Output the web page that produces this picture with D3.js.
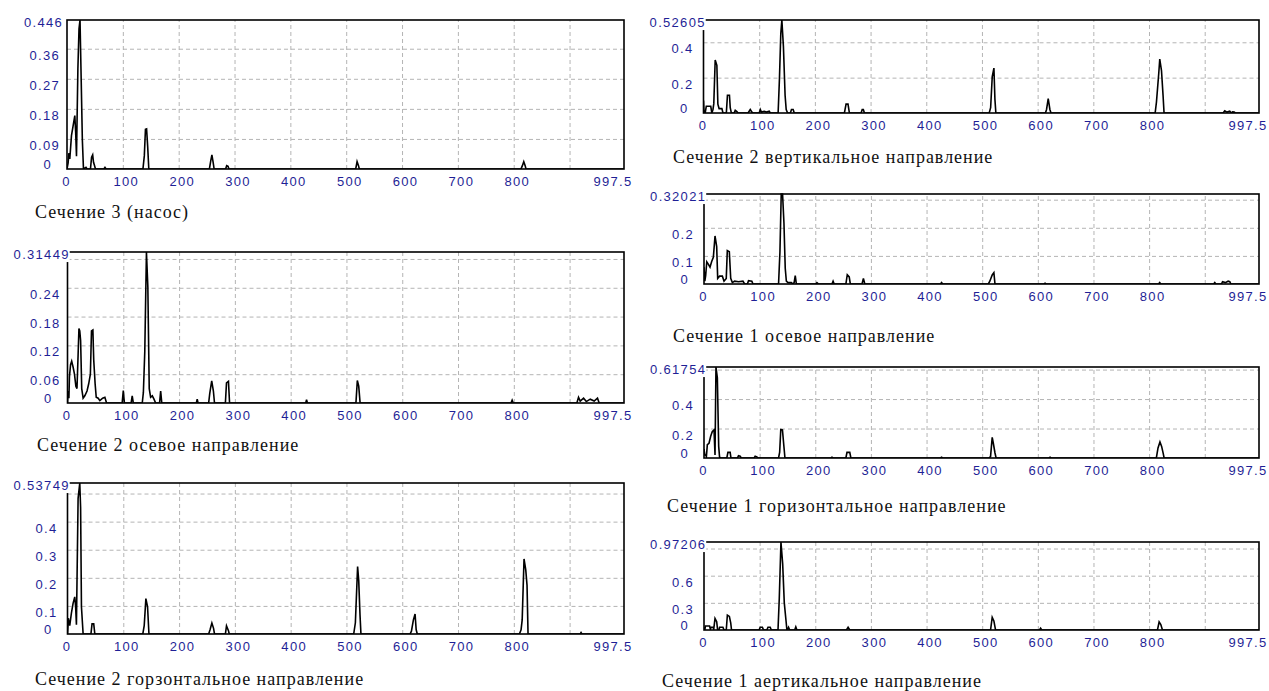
<!DOCTYPE html>
<html>
<head>
<meta charset="utf-8">
<script src="https://cdn.jsdelivr.net/npm/d3@7"></script>
<style>
  body { margin: 0; background: #fff; }
  svg { display: block; }
  .tick-label { font-family: "Liberation Sans", Arial, sans-serif; font-size: 13px; letter-spacing: 1.3px; fill: #1f1f96; }
  .caption { font-family: "Liberation Serif", "Times New Roman", serif; font-size: 18px; letter-spacing: 1px; fill: #111; }
</style>
</head>
<body>
<svg id="chart" width="1269" height="691"></svg>
<script>
// Frequency axis (Hz) shared by every spectrum
const xMax = 997.5;
const xLabelValues = [0, 100, 200, 300, 400, 500, 600, 700, 800];
const xGridValues = [100, 200, 300, 400, 500, 600, 700, 800, 900];

// Spectra: [frequency, amplitude] pairs
const pumpSpectrum = [
  [0,0],[2,0.018],[3.5,0.048],[5,0.03],[8,0.1],[11,0.13],[14,0.16],[15.5,0.11],[17,0.038],[19.5,0.3],[21.5,0.42],[23.3,0.446],
  [25.5,0.26],[27.5,0.087],[29.5,0],[34,0.005],[36,0],[42,0],[44,0.035],[46,0.042],[47.5,0.02],[49,0.012],[51,0],[66,0],[68,0.005],[70,0],
  [136,0],[138.5,0.04],[140.5,0.119],[142.5,0.12],[144.5,0.067],[146.5,0],[255,0],[257.5,0.025],[259.5,0.042],[261.5,0.022],[263.5,0],
  [284,0],[286,0.01],[288.5,0.008],[290,0],[517,0],[519.5,0.022],[522,0.01],[523.5,0],[813,0],[815.5,0.01],[818,0.022],[820.5,0.01],[822,0],[997.5,0]
];
const s2AxialSpectrum = [
  [0,0],[1,0.025],[2.5,0.01],[3.5,0.055],[5.5,0.08],[7.5,0.087],[10,0.075],[12.5,0.06],[15,0.035],[17,0.03],[19,0.1],[20.5,0.155],[22,0.15],
  [23.5,0.13],[25.5,0.03],[28,0.01],[31,0.015],[35,0.025],[38,0.04],[41,0.06],[43,0.15],[45.5,0.152],[47,0.09],[49.5,0.04],[51.5,0.012],
  [55,0.01],[58,0.005],[63,0.01],[67,0.012],[70,0],[98,0],[100,0.026],[102,0],[114,0],[116,0.015],[118,0],[134,0],[136,0.022],[138.5,0.106],
  [141.5,0.3145],[144,0.242],[146.5,0.03],[149,0.012],[152,0.015],[155,0.008],[158,0],[165,0],[167,0.025],[169,0],[231,0],[232.5,0.008],[234,0],
  [253,0],[255,0.02],[258.5,0.046],[261.5,0.025],[263.5,0],[283,0],[285,0.042],[288.5,0.045],[290.5,0],[427,0],[428.5,0.007],[430,0],
  [517,0],[519.5,0.047],[522,0.035],[524.5,0],[795,0],[797,0.006],[799,0],[913,0],[916,0.012],[919,0.004],[925,0.01],[930,0.003],[937,0.008],
  [944,0.004],[950,0.01],[953,0],[997.5,0]
];
const s2HorizontalSpectrum = [
  [0,0],[0.5,0.015],[1.5,0.056],[4,0.03],[7,0.074],[10,0.109],[13,0.132],[14.5,0.1],[16,0.033],[19,0.483],[22,0.5375],[23.5,0.45],[25,0.097],
  [28,0],[42,0],[44,0.036],[47,0.036],[49,0],[135,0],[137.5,0.03],[140.5,0.126],[143.5,0.097],[146,0],[253,0],[255.5,0.015],[258.8,0.039],
  [261.8,0.02],[263.5,0],[283,0],[285,0.029],[288.5,0.012],[290,0],[513,0],[516,0.04],[520,0.24],[522,0.19],[524.3,0.068],[526,0],
  [614,0],[616.5,0.01],[620,0.05],[623,0.071],[625,0.015],[627,0],[810,0],[813,0.015],[815,0.05],[818.3,0.267],[821.4,0.228],[823.7,0.173],
  [825.5,0],[919,0],[920.5,0.005],[922,0],[997.5,0]
];
const s2VerticalSpectrum = [
  [0,0.07],[1,0],[3,0],[5,0.038],[13,0.038],[15,0],[17,0.02],[18.5,0.053],[21,0.3],[24,0.27],[25.8,0.05],[28,0.025],[33,0.025],[35,0],
  [41,0],[43,0.1],[46.6,0.1],[48,0.03],[50,0],[55,0],[57,0.015],[60,0.008],[62,0],[80,0],[84,0.02],[87,0.005],[89,0],[100,0],[102,0.02],
  [104,0.005],[109,0.01],[113,0.005],[118,0.01],[120,0],[134,0],[136.4,0.196],[138.8,0.45],[140.7,0.526],[143.5,0.377],[146.5,0.1],
  [148.5,0.02],[151,0],[156,0],[158,0.02],[161,0.02],[163,0],[253,0],[256,0.05],[259.5,0.05],[262,0],[283,0],[285,0.02],[287,0.02],[289,0],
  [513,0],[515.6,0.03],[518.5,0.206],[521.5,0.254],[523.3,0.077],[525,0],[614,0],[616,0.02],[619,0.082],[622,0.02],[624,0],
  [811,0],[813.4,0.063],[817.5,0.225],[819.3,0.305],[822.4,0.24],[825.2,0.1],[827,0],[933,0],[936,0.012],[940,0.005],[945,0.01],[948,0],
  [950,0.006],[953,0.005],[955,0],[997.5,0]
];
const s1AxialSpectrum = [
  [0,0.06],[1.5,0.01],[3,0.03],[5,0.079],[8,0.07],[10.8,0.06],[13.8,0.08],[16.8,0.095],[19.8,0.171],[22.8,0.133],[24.6,0.02],[28,0.028],
  [33,0.028],[36,0.01],[40,0.02],[41.9,0.119],[45.5,0.115],[48,0.02],[51,0.005],[55,0.01],[62,0.008],[70,0.01],[73,0],[78,0],[80,0.012],
  [86,0.01],[88,0],[134,0],[136.5,0.115],[138.8,0.3202],[141.2,0.32],[143.7,0.216],[146,0.056],[148,0.01],[151,0.005],[157,0.005],[160,0],
  [162,0.005],[164,0.03],[166,0],[201,0],[203,0.005],[206,0],[230,0],[232,0.01],[234,0],[255,0],[257.5,0.033],[261,0.025],[263,0],
  [284,0],[286.5,0.02],[289,0],[425,0],[427,0.005],[429,0],[511,0],[513.7,0.01],[518,0.032],[521,0.04],[523,0],[611,0],[613,0.003],[615,0],
  [817,0],[819,0.005],[821,0],[916,0],[918,0.005],[920,0],[930,0],[932,0.008],[937,0.005],[942,0.01],[945,0.008],[947,0],[997.5,0]
];
const s1HorizontalSpectrum = [
  [0,0.061],[1.5,0.02],[3,0.02],[4.3,0.01],[6,0.09],[9,0.1],[12,0.147],[15,0.18],[18,0.19],[19.8,0.02],[21.5,0.6175],[24,0.545],
  [26.4,0.079],[28,0.005],[30,0],[41,0],[43,0.038],[47,0.038],[48.5,0],[60,0],[62,0.015],[65,0.012],[67,0],[90,0],[92,0.012],[95,0.008],
  [97,0],[134,0],[136,0.04],[138,0.193],[141,0.19],[143.6,0.08],[145.5,0],[228,0],[230,0.005],[232,0],[255,0],[257,0.038],[262,0.038],
  [264,0],[425,0],[427,0.005],[429,0],[512,0],[515,0.01],[518,0.14],[520,0.1],[523,0.034],[525,0],[620,0],[622,0.005],[624,0],
  [813,0],[816,0.068],[819.5,0.109],[822.5,0.079],[825.4,0.03],[827,0],[997.5,0]
];
const s1VerticalSpectrum = [
  [0,0.03],[1.5,0],[2.5,0.044],[10,0.044],[11.5,0.01],[13,0.03],[16,0.03],[17.5,0.01],[19.8,0.128],[22.8,0.091],[24.5,0],[27,0],
  [28,0.03],[34,0.03],[36,0],[40,0],[42,0.165],[45.6,0.15],[48,0.08],[49.5,0],[99,0],[101,0.03],[105,0.03],[107,0],[113,0],[115,0.03],
  [119,0.03],[121,0],[133,0],[135.3,0.35],[138.3,0.972],[141.4,0.73],[144.3,0.3],[147.3,0.11],[149,0],[150,0],[152,0.03],[154,0],
  [163,0],[165,0.035],[167,0],[256,0],[259,0.03],[262,0],[515,0],[518,0.14],[521,0.1],[524,0],[603,0],[605,0.02],[607,0],
  [815,0],[818,0.09],[821,0.06],[824,0],[997.5,0]
];

// Amplitude scale maxima and grid steps
const pumpYMax = 0.446,   pumpYTicks = [0.09, 0.18, 0.27, 0.36];
const s2AxialYMax = 0.31449, s2AxialYTicks = [0.06, 0.12, 0.18, 0.24, 0.3];
const s2HorizYMax = 0.53749, s2HorizYTicks = [0.1, 0.2, 0.3, 0.4, 0.5];
const s2VertYMax = 0.52605, s2VertYTicks = [0.2, 0.4];
const s1AxialYMax = 0.32021, s1AxialYTicks = [0.1, 0.2, 0.3];
const s1HorizYMax = 0.61754, s1HorizYTicks = [0.2, 0.4, 0.6];
const s1VertYMax = 0.97206, s1VertYTicks = [0.3, 0.6, 0.9];

const captions = [
  "Сечение 3 (насос)",
  "Сечение 2 осевое направление",
  "Сечение 2 горзонтальное направление",
  "Сечение 2 вертикальное направление",
  "Сечение 1 осевое направление",
  "Сечение 1 горизонтальное направление",
  "Сечение 1 аертикальное направление"
];

// Panel layout (pixel boxes and caption anchors)
const layout = [
  { left: 67,  right: 624,  top: 20,  bottom: 169, capX: 35,  capY: 213 },
  { left: 67.5,right: 624,  top: 252, bottom: 403, capX: 37,  capY: 446 },
  { left: 67.5,right: 624,  top: 483, bottom: 634, capX: 35,  capY: 680 },
  { left: 703.5,right: 1259, top: 20,  bottom: 113, capX: 673, capY: 158 },
  { left: 704, right: 1259, top: 194, bottom: 284, capX: 673, capY: 337 },
  { left: 704, right: 1259, top: 367, bottom: 458, capX: 667, capY: 507 },
  { left: 704, right: 1259, top: 542, bottom: 630, capX: 662, capY: 682 }
];

const series = [
  { data: pumpSpectrum,         yMax: pumpYMax,    yTicks: pumpYTicks },
  { data: s2AxialSpectrum,      yMax: s2AxialYMax, yTicks: s2AxialYTicks },
  { data: s2HorizontalSpectrum, yMax: s2HorizYMax, yTicks: s2HorizYTicks },
  { data: s2VerticalSpectrum,   yMax: s2VertYMax,  yTicks: s2VertYTicks },
  { data: s1AxialSpectrum,      yMax: s1AxialYMax, yTicks: s1AxialYTicks },
  { data: s1HorizontalSpectrum, yMax: s1HorizYMax, yTicks: s1HorizYTicks },
  { data: s1VerticalSpectrum,   yMax: s1VertYMax,  yTicks: s1VertYTicks }
];

const svg = d3.select("#chart");
svg.append("rect").attr("width", 1269).attr("height", 691).attr("fill", "#fff");

series.forEach((s, i) => {
  const b = layout[i];
  const g = svg.append("g");
  const x = d3.scaleLinear().domain([0, xMax]).range([b.left, b.right]);
  const y = d3.scaleLinear().domain([0, s.yMax]).range([b.bottom, b.top]);
  const w = b.right - b.left, h = b.bottom - b.top;

  // dashed grid
  const gridY = g.append("g").attr("transform", `translate(${b.left},0)`)
    .call(d3.axisLeft(y).tickValues(s.yTicks.filter(v => v < s.yMax)).tickSize(-w).tickFormat(""));
  const gridX = g.append("g").attr("transform", `translate(0,${b.bottom})`)
    .call(d3.axisBottom(x).tickValues(xGridValues).tickSize(h).tickSizeOuter(0).tickFormat(""));
  gridX.selectAll(".tick line").attr("y2", -h);
  [gridY, gridX].forEach(gg => {
    gg.select(".domain").remove();
    gg.selectAll(".tick line").attr("stroke", "#b4b4b4").attr("stroke-width", 1).attr("stroke-dasharray", "4,3");
  });

  // spectrum trace
  const clipId = "clip" + i;
  g.append("clipPath").attr("id", clipId).append("rect")
    .attr("x", b.left).attr("y", b.top - 1).attr("width", w).attr("height", h + 1);
  g.append("path").datum(s.data)
    .attr("clip-path", `url(#${clipId})`)
    .attr("fill", "none").attr("stroke", "#000").attr("stroke-width", 1.6)
    .attr("stroke-linejoin", "miter")
    .attr("d", d3.line().x(d => x(d[0])).y(d => y(d[1])));

  // frame
  g.append("rect").attr("x", b.left).attr("y", b.top).attr("width", w).attr("height", h)
    .attr("fill", "none").attr("stroke", "#000").attr("stroke-width", 1.6);

  // amplitude labels: zero, grid values far enough from the top, and the maximum
  const labelVals = [0].concat(s.yTicks.filter(v => y(v) - b.top > 15), [s.yMax]);
  const yAx = g.append("g").attr("transform", `translate(${b.left},0)`)
    .call(d3.axisLeft(y).tickValues(labelVals).tickSize(0).tickFormat(v => String(v)));
  yAx.select(".domain").remove();
  yAx.selectAll(".tick text").attr("class", "tick-label").attr("fill", null)
    .attr("font-size", null).attr("font-family", null)
    .attr("text-anchor", "middle")
    .attr("dy", "0.35em")
    .attr("y", v => v === s.yMax ? 2 : (v === 0 ? -5 : 6))
    .each(function () {
      const tw = this.getComputedTextLength();
      d3.select(this).attr("x", -18 - 0.14 * tw);
    });
  yAx.selectAll(".tick").filter(v => v === s.yMax).each(function () {
    const t = d3.select(this).select("text");
    const bb = t.node().getBBox();
    d3.select(this).insert("rect", "text")
      .attr("x", bb.x - 1).attr("y", bb.y).attr("width", bb.width + 1).attr("height", bb.height)
      .attr("fill", "#fff");
  });

  // frequency labels
  const xAx = g.append("g").attr("transform", `translate(0,${b.bottom})`)
    .call(d3.axisBottom(x).tickValues(xLabelValues.concat([xMax])).tickSize(0).tickPadding(8).tickFormat(v => String(v)));
  xAx.select(".domain").remove();
  xAx.selectAll(".tick text").attr("class", "tick-label").attr("fill", null)
    .attr("font-size", null).attr("font-family", null)
    .attr("text-anchor", v => v === xMax ? "end" : "middle")
    .attr("x", v => v === xMax ? 8 : (v === 0 ? -1 : 3));

  // caption
  svg.append("text").attr("class", "caption")
    .attr("x", b.capX).attr("y", b.capY + 5)
    .text(captions[i]);
});
</script>
</body>
</html>
